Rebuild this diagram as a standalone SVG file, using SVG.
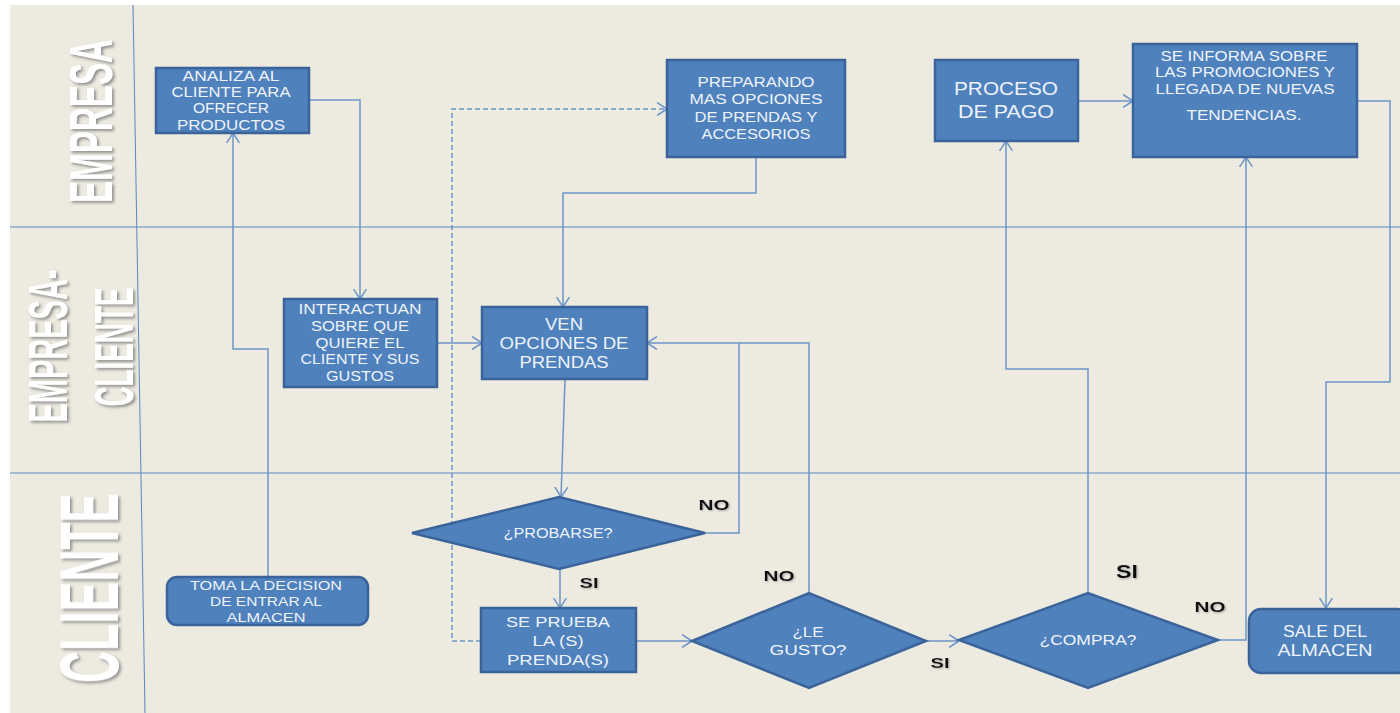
<svg xmlns="http://www.w3.org/2000/svg" width="1400" height="713" viewBox="0 0 1400 713">
<style>
.bg{fill:#EDEAE0}
.lane{stroke:#5B87C0;stroke-width:1;fill:none}
.box{fill:#4F81BD;stroke:#3A6399;stroke-width:2.5}
.t{fill:#EEF3FA;font-family:"Liberation Sans",Arial,sans-serif;text-anchor:middle}
.lbl{fill:#111;font-family:"Liberation Sans",Arial,sans-serif;font-weight:bold;text-anchor:middle}
.lt{fill:#FFFFFF;font-family:"Liberation Sans",Arial,sans-serif;font-weight:bold;text-anchor:middle}
.c{fill:none;stroke:#6D95C9;stroke-width:1.5}
.d{fill:none;stroke:#6D95C9;stroke-width:1.5;stroke-dasharray:5,3}
</style>
<defs>
<marker id="arr" viewBox="0 0 10 14" refX="10" refY="7" markerWidth="10" markerHeight="14" orient="auto" markerUnits="userSpaceOnUse">
<path d="M0,0.5 L10,7 L0,13.5" fill="none" stroke="#6D95C9" stroke-width="1.5"/>
</marker>
<filter id="sh" x="-20%" y="-20%" width="140%" height="140%">
<feDropShadow dx="2" dy="2" stdDeviation="1.5" flood-color="#7a7a7a" flood-opacity="0.8"/>
</filter>
<filter id="sh2" x="-20%" y="-20%" width="140%" height="140%">
<feDropShadow dx="1" dy="1" stdDeviation="0.8" flood-color="#999" flood-opacity="0.8"/>
</filter>
</defs>
<rect x="0" y="0" width="1400" height="713" fill="#FFFFFF"/>
<rect class="bg" x="10" y="5" width="1390" height="708"/>
<g id="lanes">
<line class="lane" x1="10" y1="227" x2="1400" y2="227"/>
<line class="lane" x1="10" y1="473" x2="1400" y2="473"/>
<line class="lane" x1="133" y1="5" x2="145" y2="713"/>
<g filter="url(#sh)">
<text class="lt" transform="translate(112,121) rotate(-90) scale(0.544,1)" font-size="61" x="0" y="0">EMPRESA</text>
<text class="lt" transform="translate(67,346) rotate(-90) scale(0.518,1)" font-size="56" x="0" y="0">EMPRESA-</text>
<text class="lt" transform="translate(133,347) rotate(-90) scale(0.497,1)" font-size="56" x="0" y="0">CLIENTE</text>
<text class="lt" transform="translate(118,588) rotate(-90) scale(0.529,1)" font-size="84" x="0" y="0">CLIENTE</text>
</g>
</g>
<g id="connectors">
<polyline class="c" points="309,100 360,100 360,299" marker-end="url(#arr)"/>
<polyline class="c" points="268,577 268,349 233,349 233,133" marker-end="url(#arr)"/>
<polyline class="c" points="437,343 482,343" marker-end="url(#arr)"/>
<polyline class="c" points="756,157 756,193 563,193 563,307" marker-end="url(#arr)"/>
<polyline class="c" points="565,379 561,497" marker-end="url(#arr)"/>
<polyline class="c" points="705,533 739,533 739,343 647,343" marker-end="url(#arr)"/>
<polyline class="c" points="809,593 809,343 739,343"/>
<polyline class="c" points="560,568 560,608" marker-end="url(#arr)"/>
<polyline class="c" points="636,641 692,641" marker-end="url(#arr)"/>
<polyline class="d" points="481,641 452,641 452,109 667,109" marker-end="url(#arr)"/>
<polyline class="c" points="926,641 959,641" marker-end="url(#arr)"/>
<polyline class="c" points="1088,593 1088,369 1006,369 1006,141" marker-end="url(#arr)"/>
<polyline class="c" points="1078,101 1133,101" marker-end="url(#arr)"/>
<polyline class="c" points="1218,640 1246,640 1246,157" marker-end="url(#arr)"/>
<polyline class="c" points="1357,101 1390,101 1390,382 1326,382 1326,608" marker-end="url(#arr)"/>
</g>
<g id="n-analiza">
<rect class="box" x="156" y="68" width="153" height="65"/>
<text class="t" font-size="14"><tspan x="231" y="81" textLength="97" lengthAdjust="spacingAndGlyphs">ANALIZA AL</tspan><tspan x="231" y="97" textLength="119" lengthAdjust="spacingAndGlyphs">CLIENTE PARA</tspan><tspan x="231" y="113" textLength="76" lengthAdjust="spacingAndGlyphs">OFRECER</tspan><tspan x="231" y="130" textLength="108" lengthAdjust="spacingAndGlyphs">PRODUCTOS</tspan></text>
</g>
<g id="n-interactuan">
<rect class="box" x="284" y="299" width="153" height="88"/>
<text class="t" font-size="14"><tspan x="360" y="314" textLength="123" lengthAdjust="spacingAndGlyphs">INTERACTUAN</tspan><tspan x="360" y="331" textLength="98" lengthAdjust="spacingAndGlyphs">SOBRE QUE</tspan><tspan x="360" y="348" textLength="89" lengthAdjust="spacingAndGlyphs">QUIERE EL</tspan><tspan x="360" y="364" textLength="119" lengthAdjust="spacingAndGlyphs">CLIENTE Y SUS</tspan><tspan x="360" y="381" textLength="68" lengthAdjust="spacingAndGlyphs">GUSTOS</tspan></text>
</g>
<g id="n-toma">
<rect class="box" x="167" y="577" width="201" height="48" rx="10"/>
<text class="t" font-size="13"><tspan x="266" y="590" textLength="152" lengthAdjust="spacingAndGlyphs">TOMA LA DECISION</tspan><tspan x="266" y="606" textLength="112" lengthAdjust="spacingAndGlyphs">DE ENTRAR AL</tspan><tspan x="266" y="622" textLength="79" lengthAdjust="spacingAndGlyphs">ALMACEN</tspan></text>
</g>
<g id="n-preparando">
<rect class="box" x="667" y="60" width="178" height="97"/>
<text class="t" font-size="14"><tspan x="756" y="87" textLength="117" lengthAdjust="spacingAndGlyphs">PREPARANDO</tspan><tspan x="756" y="104" textLength="133" lengthAdjust="spacingAndGlyphs">MAS OPCIONES</tspan><tspan x="756" y="122" textLength="123" lengthAdjust="spacingAndGlyphs">DE PRENDAS Y</tspan><tspan x="756" y="139" textLength="109" lengthAdjust="spacingAndGlyphs">ACCESORIOS</tspan></text>
</g>
<g id="n-ven">
<rect class="box" x="482" y="307" width="165" height="72"/>
<text class="t" font-size="16"><tspan x="564" y="330" textLength="38" lengthAdjust="spacingAndGlyphs">VEN</tspan><tspan x="564" y="349" textLength="129" lengthAdjust="spacingAndGlyphs">OPCIONES DE</tspan><tspan x="564" y="368" textLength="89" lengthAdjust="spacingAndGlyphs">PRENDAS</tspan></text>
</g>
<g id="n-probarse">
<polygon class="box" points="412,533 559,497 705,533 559,569"/>
<text class="t" font-size="14" x="558" y="538" textLength="109" lengthAdjust="spacingAndGlyphs">¿PROBARSE?</text>
</g>
<g id="n-seprueba">
<rect class="box" x="481" y="608" width="155" height="64"/>
<text class="t" font-size="15"><tspan x="558" y="627" textLength="104" lengthAdjust="spacingAndGlyphs">SE PRUEBA</tspan><tspan x="558" y="646" textLength="51" lengthAdjust="spacingAndGlyphs">LA (S)</tspan><tspan x="558" y="665" textLength="102" lengthAdjust="spacingAndGlyphs">PRENDA(S)</tspan></text>
</g>
<g id="n-legusto">
<polygon class="box" points="692,641 809,593 926,641 809,688"/>
<text class="t" font-size="15"><tspan x="808" y="637" textLength="31" lengthAdjust="spacingAndGlyphs">¿LE</tspan><tspan x="808" y="655" textLength="77" lengthAdjust="spacingAndGlyphs">GUSTO?</tspan></text>
</g>
<g id="n-compra">
<polygon class="box" points="959,640 1088,593 1218,640 1088,688"/>
<text class="t" font-size="15" x="1088" y="645" textLength="97" lengthAdjust="spacingAndGlyphs">¿COMPRA?</text>
</g>
<g id="n-proceso">
<rect class="box" x="935" y="60" width="143" height="81"/>
<text class="t" font-size="18"><tspan x="1006" y="95" textLength="104" lengthAdjust="spacingAndGlyphs">PROCESO</tspan><tspan x="1006" y="118" textLength="96" lengthAdjust="spacingAndGlyphs">DE PAGO</tspan></text>
</g>
<g id="n-seinforma">
<rect class="box" x="1133" y="44" width="224" height="113"/>
<text class="t" font-size="14"><tspan x="1244" y="61" textLength="167" lengthAdjust="spacingAndGlyphs">SE INFORMA SOBRE</tspan><tspan x="1245" y="77" textLength="180" lengthAdjust="spacingAndGlyphs">LAS PROMOCIONES Y</tspan><tspan x="1245" y="94" textLength="179" lengthAdjust="spacingAndGlyphs">LLEGADA DE NUEVAS</tspan><tspan x="1244" y="120" textLength="115" lengthAdjust="spacingAndGlyphs">TENDENCIAS.</tspan></text>
</g>
<g id="n-sale">
<rect class="box" x="1249" y="609" width="160" height="64" rx="12"/>
<text class="t" font-size="16"><tspan x="1325" y="637" textLength="84" lengthAdjust="spacingAndGlyphs">SALE DEL</tspan><tspan x="1325" y="656" textLength="95" lengthAdjust="spacingAndGlyphs">ALMACEN</tspan></text>
</g>
<g id="labels" filter="url(#sh2)">
<text class="lbl" font-size="15" x="714" y="510" textLength="31" lengthAdjust="spacingAndGlyphs">NO</text>
<text class="lbl" font-size="15" x="589" y="588" textLength="19" lengthAdjust="spacingAndGlyphs">SI</text>
<text class="lbl" font-size="15" x="779" y="581" textLength="31" lengthAdjust="spacingAndGlyphs">NO</text>
<text class="lbl" font-size="15" x="940" y="668" textLength="19" lengthAdjust="spacingAndGlyphs">SI</text>
<text class="lbl" font-size="19" x="1127" y="578" textLength="22" lengthAdjust="spacingAndGlyphs">SI</text>
<text class="lbl" font-size="15" x="1210" y="612" textLength="31" lengthAdjust="spacingAndGlyphs">NO</text>
</g>
</svg>
